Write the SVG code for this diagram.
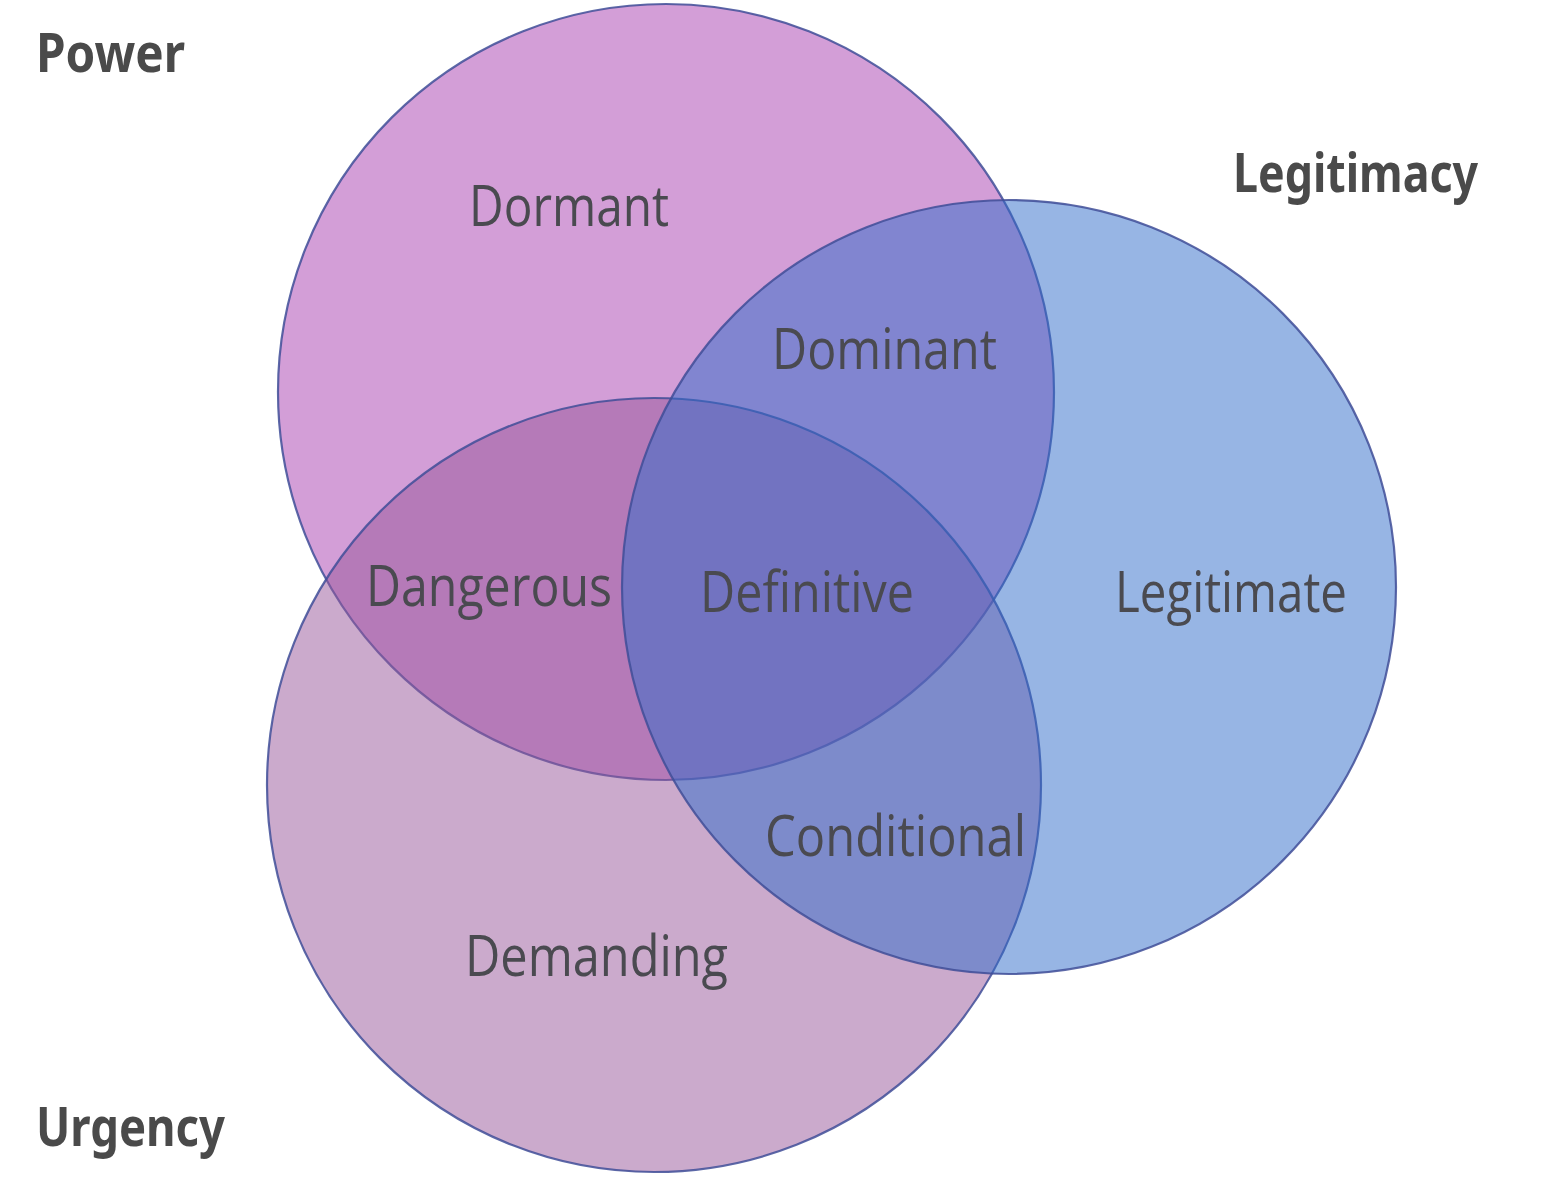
<svg xmlns="http://www.w3.org/2000/svg" width="1543" height="1200" viewBox="0 0 1543 1200">
<style>
.c{stroke:#3f4e98;stroke-width:2.2;stroke-opacity:0.85}
.lbl{font-family:"Open Sans","Noto Sans","DejaVu Sans",sans-serif;font-size:57px;fill:#4a4a50}
.ttl{font-family:"Noto Sans","DejaVu Sans",sans-serif;font-weight:bold;font-size:54px;fill:#4a4a4a}
</style>
<rect width="1543" height="1200" fill="#ffffff"/>
<g id="power"><circle class="c" cx="666" cy="392" r="388" fill="#a73daf" fill-opacity="0.5"/></g>
<g id="urgency"><circle class="c" cx="654" cy="785" r="387" fill="#97559a" fill-opacity="0.5"/></g>
<g id="legitimacy"><circle class="c" cx="1009" cy="587" r="387" fill="#2f6bc9" fill-opacity="0.5"/></g>
<g id="connectors"></g>
<g id="titles">
<text class="ttl" x="36" y="72" textLength="149" lengthAdjust="spacingAndGlyphs">Power</text>
<text class="ttl" x="1233" y="192" textLength="245" lengthAdjust="spacingAndGlyphs">Legitimacy</text>
<text class="ttl" x="36" y="1146" textLength="189" lengthAdjust="spacingAndGlyphs">Urgency</text>
</g>
<g id="labels">
<text class="lbl" x="469" y="226" textLength="200" lengthAdjust="spacingAndGlyphs">Dormant</text>
<text class="lbl" x="772" y="369" textLength="225" lengthAdjust="spacingAndGlyphs">Dominant</text>
<text class="lbl" x="366" y="606" textLength="246" lengthAdjust="spacingAndGlyphs">Dangerous</text>
<text class="lbl" x="700" y="612" textLength="214" lengthAdjust="spacingAndGlyphs">Definitive</text>
<text class="lbl" x="1115" y="612" textLength="232" lengthAdjust="spacingAndGlyphs">Legitimate</text>
<text class="lbl" x="765" y="856" textLength="261" lengthAdjust="spacingAndGlyphs">Conditional</text>
<text class="lbl" x="465" y="976" textLength="263" lengthAdjust="spacingAndGlyphs">Demanding</text>
</g>
</svg>
